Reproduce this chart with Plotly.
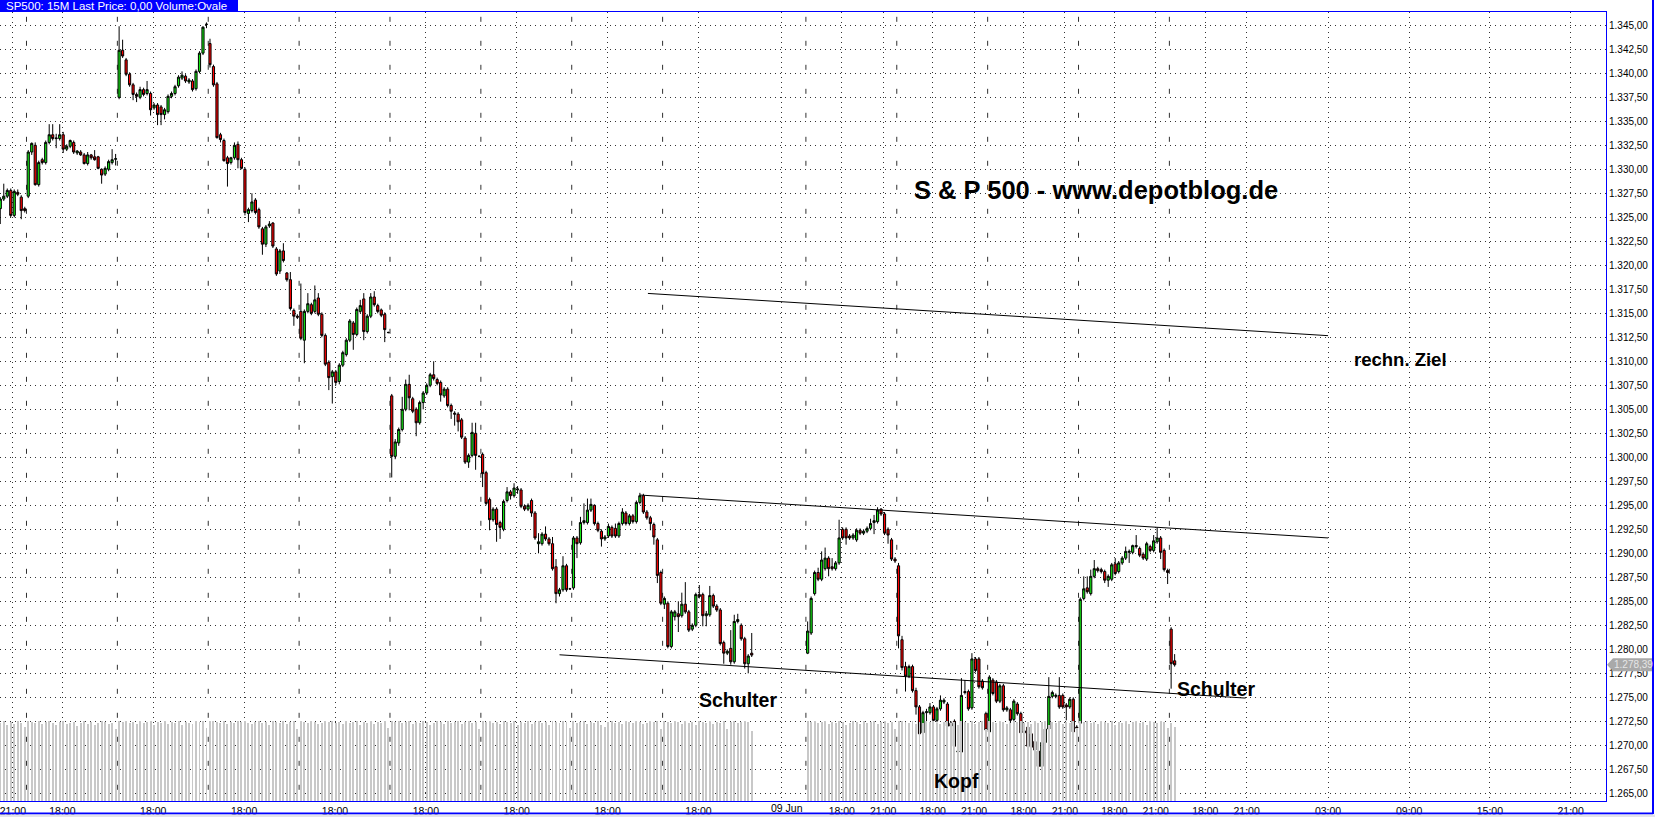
import plotly.graph_objects as go

# ---------------- DATA ----------------
# first 15-minute slot of each trading session (x axis = slot index)
SESSION_START = [-8, 0, 26, 52, 78, 104, 130, 156, 182, 223, 249, 275, 301, 327]

# (open, high, low, close) per 15-minute candle, one list per session
S_PRE = [(1325.9,1327.1,1324.3,1326.9),(1326.9,1328.5,1326.7,1327.2),(1327.2,1328.0,1327.0,1327.8),
         (1327.8,1328.0,1325.0,1325.2),(1325.2,1327.9,1325.0,1327.7),(1327.6,1327.9,1327.2,1327.4),
         (1327.1,1327.3,1324.8,1325.7),(1325.9,1326.1,1325.5,1325.7)]
S_D0 = [(1327.2,1332.0,1327.0,1331.8),(1331.8,1332.8,1331.5,1332.7),(1332.5,1332.8,1328.3,1328.4),
        (1328.4,1330.9,1328.2,1330.7),(1331.0,1331.2,1330.5,1330.7),(1330.7,1333.0,1330.5,1332.8),
        (1332.8,1334.7,1332.6,1333.6),(1333.6,1334.7,1333.0,1333.2),(1333.2,1333.7,1332.2,1333.25),
        (1333.2,1334.7,1333.0,1333.6),(1333.6,1333.9,1331.7,1332.1),(1332.1,1332.6,1331.9,1332.4),
        (1332.4,1333.1,1332.2,1333.0),(1332.8,1333.0,1331.6,1331.8),(1331.7,1332.0,1331.5,1331.9),
        (1331.8,1332.0,1331.4,1331.5),(1331.5,1331.7,1330.5,1330.6),(1330.6,1331.8,1330.4,1331.5),
        (1331.5,1331.6,1331.0,1331.2),(1331.3,1332.0,1330.9,1331.0),(1331.3,1331.4,1330.0,1330.1),
        (1330.0,1330.1,1328.5,1329.4),(1329.5,1330.3,1329.3,1330.1),(1330.0,1331.0,1329.8,1330.8),
        (1330.7,1332.1,1330.5,1331.0),(1331.05,1331.6,1330.4,1331.1)]
S_D1 = [(1337.5,1344.9,1337.3,1342.4),(1342.4,1343.5,1341.6,1341.8),(1341.4,1341.6,1339.7,1339.9),
        (1339.9,1340.1,1338.6,1338.8),(1338.8,1339.0,1337.2,1337.8),(1337.8,1338.0,1337.0,1337.6),
        (1337.5,1338.6,1337.3,1338.3),(1338.3,1338.5,1337.6,1337.8),(1337.9,1339.2,1337.7,1338.3),
        (1337.9,1338.1,1335.6,1336.2),(1336.4,1336.9,1336.2,1336.7),(1336.7,1336.9,1334.6,1335.7),
        (1336.5,1336.7,1334.6,1335.7),(1335.7,1336.4,1335.2,1336.2),(1336.0,1337.8,1335.8,1337.6),
        (1337.6,1338.1,1337.4,1337.9),(1337.9,1338.8,1337.7,1338.6),(1338.7,1339.8,1338.5,1339.6),
        (1339.5,1340.2,1339.3,1339.8),(1339.7,1339.9,1339.0,1339.2),(1339.1,1339.5,1338.9,1339.3),
        (1339.2,1339.4,1338.1,1338.3),(1338.4,1340.4,1338.2,1340.2),(1340.2,1342.3,1340.0,1342.1),
        (1342.1,1344.9,1341.9,1344.8),(1345.1,1345.3,1344.7,1345.1)]
S_D2 = [(1343.1,1343.6,1340.6,1340.9),(1340.7,1340.9,1338.6,1338.8),(1338.9,1339.1,1333.2,1333.3),
        (1333.6,1333.8,1332.8,1333.1),(1333.0,1333.2,1330.8,1330.9),(1331.2,1331.4,1328.2,1330.6),
        (1330.7,1331.3,1330.5,1331.2),(1331.2,1332.8,1331.0,1332.5),(1332.6,1332.9,1330.1,1331.0),
        (1331.0,1331.2,1330.0,1330.1),(1330.0,1330.2,1325.2,1325.5),(1325.4,1326.0,1324.5,1325.8),
        (1325.7,1327.5,1325.5,1326.6),(1326.8,1327.0,1325.3,1325.5),(1325.8,1326.0,1323.8,1324.0),
        (1323.8,1324.0,1321.1,1322.2),(1322.2,1324.2,1321.9,1324.0),(1324.1,1324.6,1323.9,1324.3),
        (1324.4,1324.5,1321.8,1322.0),(1321.7,1321.9,1318.9,1319.1),(1319.4,1321.7,1319.1,1321.5),
        (1321.5,1322.3,1320.3,1320.5),(1319.2,1319.3,1318.3,1318.5),(1318.5,1319.3,1315.3,1315.5),
        (1315.3,1315.5,1313.7,1314.7),(1314.7,1314.9,1314.4,1314.6)]
S_D3 = [(1315.2,1318.1,1312.2,1312.4),(1312.2,1315.4,1309.8,1315.2),(1315.2,1317.1,1315.0,1316.0),
        (1315.9,1316.1,1314.8,1315.0),(1315.2,1317.9,1315.0,1316.4),(1316.6,1317.1,1314.7,1314.9),
        (1314.9,1315.1,1312.5,1312.7),(1312.7,1312.9,1309.5,1309.7),(1309.9,1310.1,1307.0,1308.3),
        (1308.4,1309.1,1305.6,1308.9),(1308.9,1309.1,1307.5,1307.8),(1307.9,1309.8,1307.6,1309.6),
        (1309.6,1311.1,1309.4,1310.9),(1310.7,1312.4,1310.5,1312.2),(1312.2,1314.4,1312.0,1314.2),
        (1314.0,1314.2,1311.2,1312.8),(1312.8,1315.6,1312.6,1315.4),(1315.2,1316.4,1315.0,1315.8),
        (1316.5,1317.1,1312.2,1313.1),(1313.1,1314.9,1312.9,1314.7),(1314.7,1317.1,1314.5,1316.7),
        (1316.7,1317.3,1315.7,1315.9),(1315.8,1316.0,1315.0,1315.2),(1315.35,1315.5,1314.6,1314.8),
        (1314.9,1315.1,1312.0,1313.3),(1313.0,1313.1,1312.9,1313.0)]
S_D4 = [(1306.4,1306.6,1297.9,1300.1),(1300.1,1301.9,1299.8,1301.6),(1301.5,1303.1,1301.2,1302.9),
        (1302.9,1306.3,1302.7,1305.0),(1305.0,1308.1,1304.8,1307.6),(1307.6,1308.6,1304.9,1306.2),
        (1306.1,1306.3,1304.6,1304.8),(1305.0,1305.2,1302.2,1303.6),(1303.6,1305.9,1303.4,1305.7),
        (1305.7,1306.9,1305.0,1306.7),(1306.7,1307.7,1306.5,1307.5),(1307.5,1308.8,1307.3,1308.6),
        (1308.6,1310.0,1308.0,1308.2),(1308.1,1308.3,1307.5,1307.7),(1307.8,1308.0,1305.8,1306.5),
        (1306.4,1307.3,1306.2,1307.1),(1307.1,1307.3,1305.2,1305.4),(1305.4,1305.6,1304.0,1304.8),
        (1304.6,1304.8,1303.3,1304.5),(1304.5,1304.7,1302.7,1303.7),(1303.9,1304.1,1301.9,1302.1),
        (1302.0,1302.2,1299.3,1299.5),(1299.5,1300.4,1298.9,1300.2),(1300.2,1303.6,1300.0,1302.6),
        (1302.5,1303.6,1298.7,1300.2),(1300.1,1300.2,1300.0,1300.1)]
S_D5 = [(1300.3,1300.5,1296.9,1298.3),(1298.4,1298.6,1295.0,1295.2),(1295.6,1295.8,1292.4,1293.5),
        (1293.5,1294.8,1293.3,1294.6),(1294.6,1294.8,1291.2,1293.0),(1293.2,1293.4,1291.5,1292.7),
        (1292.5,1295.6,1292.3,1295.4),(1295.5,1296.9,1295.3,1296.4),(1296.4,1296.6,1295.6,1296.0),
        (1296.0,1297.3,1295.8,1296.8),(1296.6,1297.0,1296.2,1296.7),(1296.6,1296.8,1294.7,1294.9),
        (1294.9,1295.1,1294.4,1294.6),(1294.6,1295.2,1294.4,1295.0),(1295.5,1295.7,1293.8,1294.2),
        (1294.2,1294.4,1291.4,1291.6),(1291.0,1292.1,1290.0,1291.2),(1291.0,1292.2,1290.8,1292.0),
        (1292.0,1292.8,1291.3,1291.5),(1291.5,1291.7,1290.8,1291.0),(1291.0,1291.7,1288.2,1288.4),
        (1288.6,1289.4,1284.8,1285.8),(1285.8,1286.4,1285.5,1286.2),(1286.2,1289.7,1286.0,1288.7),
        (1288.7,1288.9,1286.0,1286.2),(1286.3,1286.4,1286.2,1286.3)]
S_D6 = [(1286.4,1291.8,1286.2,1291.6),(1291.6,1291.8,1289.5,1291.0),(1291.1,1293.8,1290.9,1293.2),
        (1293.2,1295.2,1293.0,1293.4),(1293.2,1295.7,1293.0,1294.5),(1294.5,1295.7,1294.3,1295.1),
        (1295.0,1295.1,1292.9,1293.1),(1293.1,1293.3,1292.2,1292.4),(1292.3,1292.5,1290.7,1291.5),
        (1291.5,1291.9,1291.3,1291.7),(1291.8,1293.1,1291.6,1292.8),(1292.7,1292.9,1291.6,1291.8),
        (1292.6,1293.1,1291.6,1291.8),(1291.8,1293.3,1291.6,1293.1),(1293.1,1294.7,1292.9,1294.3),
        (1294.2,1294.4,1292.9,1293.1),(1293.1,1294.1,1292.9,1293.9),(1293.9,1294.1,1293.1,1293.3),
        (1293.3,1295.5,1293.1,1295.3),(1295.3,1296.3,1295.1,1296.0),(1296.0,1296.2,1294.1,1294.3),
        (1294.3,1294.5,1293.5,1293.7),(1293.7,1293.9,1292.4,1293.1),(1293.0,1293.2,1290.9,1291.7),
        (1291.4,1291.6,1286.9,1287.7),(1288.0,1288.2,1284.6,1284.8)]
S_D7 = [(1284.7,1285.5,1284.2,1285.3),(1284.8,1285.0,1280.1,1280.3),(1280.3,1284.1,1280.1,1283.9),
        (1283.4,1284.1,1283.0,1283.9),(1283.7,1285.0,1281.8,1283.4),(1283.5,1285.9,1283.3,1284.7),
        (1284.7,1287.0,1283.7,1283.9),(1283.9,1284.1,1281.8,1282.0),(1282.1,1282.7,1281.9,1282.5),
        (1282.5,1285.9,1282.3,1285.7),(1285.7,1286.7,1285.3,1285.5),(1285.7,1285.9,1282.4,1283.5),
        (1283.5,1284.0,1282.4,1283.7),(1283.6,1286.6,1283.4,1285.6),(1285.6,1285.8,1284.3,1284.5),
        (1284.5,1284.7,1283.9,1284.1),(1284.1,1284.3,1280.4,1280.6),(1280.7,1280.9,1278.5,1279.6),
        (1279.6,1280.0,1279.4,1279.8),(1280.1,1282.0,1278.4,1278.7),(1278.7,1283.6,1278.5,1282.9),
        (1282.9,1283.7,1282.7,1283.1),(1282.5,1282.7,1280.9,1281.1),(1281.1,1281.3,1278.0,1278.5),
        (1278.5,1279.5,1277.5,1279.3),(1279.6,1281.7,1279.2,1279.4)]
S_D8 = [(1279.6,1282.9,1279.5,1281.9),(1281.7,1285.5,1281.5,1285.3),(1285.8,1288.2,1285.6,1288.0),
        (1288.0,1288.5,1287.1,1287.3),(1287.3,1290.2,1287.1,1289.3),(1288.4,1290.6,1288.2,1289.5),
        (1289.5,1289.7,1287.6,1288.4),(1288.6,1289.5,1288.2,1288.4),(1288.4,1289.2,1288.2,1289.0),
        (1289.0,1293.5,1288.8,1291.6),(1292.5,1292.7,1291.4,1291.6),(1292.5,1292.7,1290.9,1291.6),
        (1291.8,1292.0,1291.4,1291.6),(1291.6,1292.1,1291.4,1291.9),(1291.4,1292.6,1291.2,1292.4),
        (1292.4,1292.6,1291.9,1292.1),(1292.1,1292.5,1291.9,1292.3),(1292.3,1292.8,1292.1,1292.6),
        (1292.6,1293.6,1292.4,1293.1),(1293.2,1294.0,1292.0,1293.4),(1293.3,1294.8,1293.1,1294.5),
        (1294.6,1294.7,1293.9,1294.1),(1294.1,1294.3,1291.9,1292.1),(1292.5,1292.7,1291.0,1291.9),
        (1291.4,1291.6,1289.2,1289.4),(1289.4,1289.6,1289.0,1289.2)]
S_D9 = [(1288.7,1289.0,1280.1,1281.4),(1281.0,1281.4,1277.8,1278.1),(1278.2,1278.7,1275.6,1277.2),
        (1277.2,1278.4,1277.0,1278.2),(1278.2,1278.4,1275.5,1275.7),(1275.7,1276.0,1273.2,1274.0),
        (1274.0,1274.2,1270.9,1271.2),(1271.3,1273.6,1271.1,1273.4),(1273.4,1273.8,1271.9,1273.5),
        (1273.4,1274.4,1273.2,1274.0),(1274.0,1274.2,1272.4,1272.6),(1272.6,1274.0,1272.4,1273.8),
        (1273.8,1275.2,1273.6,1274.7),(1274.5,1274.9,1274.3,1274.7),(1274.3,1274.5,1271.8,1272.0),
        (1272.3,1272.5,1271.8,1272.0),(1272.5,1272.7,1269.7,1269.9),(1269.3,1269.6,1268.3,1269.4),
        (1269.3,1277.0,1269.1,1275.2),(1275.6,1276.8,1275.3,1275.5),(1275.6,1275.8,1273.6,1273.8),
        (1273.9,1279.6,1273.7,1279.0),(1279.0,1279.2,1277.6,1277.8),(1279.0,1279.2,1275.9,1276.1),
        (1276.7,1276.9,1275.8,1276.0),(1273.3,1273.5,1270.6,1271.6)]
S_D10 = [(1271.4,1277.3,1270.6,1277.1),(1276.8,1277.0,1275.2,1275.4),(1276.6,1276.8,1274.4,1274.6),
         (1274.6,1276.4,1274.4,1276.2),(1276.2,1276.4,1273.5,1273.7),(1273.7,1274.1,1273.5,1273.9),
         (1273.7,1273.9,1271.8,1272.6),(1272.7,1274.8,1272.5,1274.6),(1274.3,1274.5,1273.1,1273.3),
         (1273.3,1273.5,1271.1,1271.3),(1271.5,1271.7,1271.1,1271.3),(1271.9,1272.1,1269.7,1269.9),
         (1271.2,1271.4,1269.1,1269.8),(1270.4,1270.6,1269.3,1269.5),(1269.4,1269.6,1265.9,1267.8),
         (1267.8,1270.5,1267.6,1270.3),(1270.3,1271.9,1270.1,1271.7),(1271.7,1277.1,1271.5,1275.1),
         (1275.1,1275.7,1274.9,1275.5),(1275.1,1275.4,1274.9,1275.2),(1275.2,1277.1,1273.8,1274.0),
         (1275.2,1275.4,1273.8,1274.0),(1274.2,1274.4,1272.6,1274.0),(1274.0,1275.0,1273.8,1274.8),
         (1274.8,1275.0,1270.8,1271.4),(1271.9,1272.1,1271.6,1271.8)]
S_D11 = [(1272.3,1285.4,1272.1,1285.2),(1285.3,1287.6,1285.1,1286.3),(1286.4,1287.6,1285.8,1286.0),
         (1285.8,1288.3,1285.6,1287.6),(1287.6,1289.3,1287.4,1288.4),(1288.4,1288.6,1288.0,1288.2),
         (1288.3,1288.5,1287.9,1288.1),(1288.1,1288.3,1286.9,1287.2),(1287.2,1287.8,1286.5,1287.6),
         (1287.3,1289.0,1287.1,1288.8),(1288.9,1289.5,1287.7,1287.9),(1288.1,1289.2,1287.9,1289.0),
         (1289.0,1289.7,1288.8,1289.5),(1289.5,1290.7,1289.3,1290.2),(1290.1,1290.4,1289.0,1290.2),
         (1290.1,1290.9,1289.9,1290.8),(1290.7,1291.9,1290.5,1290.8),(1290.5,1290.7,1289.6,1289.8),
         (1289.9,1290.1,1289.3,1289.5),(1289.4,1291.2,1289.2,1291.0),(1290.7,1290.9,1290.1,1290.3),
         (1290.3,1291.9,1290.1,1291.3),(1291.2,1292.7,1291.0,1291.6),(1291.6,1291.8,1289.4,1290.1),
         (1290.3,1290.5,1288.1,1288.3),(1288.2,1288.4,1286.8,1288.0)]
S_D12 = [(1282.1,1282.3,1275.9,1278.5),(1278.8,1279.5,1278.2,1278.39)]
SESSIONS = [S_PRE, S_D0, S_D1, S_D2, S_D3, S_D4, S_D5, S_D6, S_D7, S_D8, S_D9, S_D10, S_D11, S_D12]

# volume per candle (arbitrary units, drawn as thin grey bars)
V_PRE = [78, 80, 76, 79, 77, 80, 78, 74]
V_D0 = [80, 79, 78, 80, 77, 79, 80, 78, 76, 79, 80, 77, 78, 79, 75, 78, 80, 77, 79, 76, 78, 80, 79, 77, 78, 72]
V_D1 = [80, 79, 80, 78, 79, 77, 80, 78, 79, 80, 76, 79, 78, 80, 77, 79, 78, 80, 76, 79, 78, 77, 80, 79, 80, 73]
V_D2 = [80, 80, 79, 78, 80, 77, 79, 78, 80, 79, 80, 78, 77, 79, 80, 78, 79, 76, 80, 79, 78, 80, 77, 79, 80, 72]
V_D3 = [80, 79, 78, 80, 79, 77, 78, 80, 79, 80, 78, 79, 77, 80, 78, 79, 80, 76, 79, 78, 80, 77, 79, 78, 80, 73]
V_D4 = [80, 79, 80, 78, 79, 80, 77, 79, 78, 80, 79, 76, 78, 80, 79, 77, 80, 78, 79, 80, 77, 79, 80, 78, 79, 72]
V_D5 = [80, 79, 80, 78, 79, 77, 80, 79, 78, 80, 76, 79, 78, 80, 77, 79, 80, 78, 79, 76, 80, 79, 78, 80, 79, 73]
V_D6 = [80, 78, 79, 80, 77, 79, 78, 80, 76, 74, 79, 80, 78, 79, 77, 80, 79, 78, 80, 79, 77, 78, 80, 79, 80, 72]
V_D7 = [80, 79, 78, 80, 79, 77, 80, 78, 79, 76, 80, 79, 78, 80, 77, 79, 78, 80, 72, 79, 80, 78, 79, 80, 79, 70]
V_D8 = [80, 79, 80, 78, 79, 80, 77, 79, 78, 80, 79, 76, 78, 80, 79, 77, 80, 78, 79, 80, 77, 79, 80, 78, 79, 72]
V_D9 = [80, 80, 79, 78, 80, 77, 79, 78, 80, 79, 80, 78, 77, 79, 80, 78, 79, 76, 80, 79, 78, 80, 77, 79, 80, 72]
V_D10 = [80, 79, 78, 80, 79, 77, 78, 80, 79, 80, 78, 79, 77, 80, 78, 79, 80, 76, 79, 78, 80, 77, 79, 78, 80, 73]
V_D11 = [80, 79, 80, 78, 79, 77, 80, 79, 78, 80, 76, 79, 78, 80, 77, 79, 80, 78, 79, 76, 80, 79, 78, 80, 79, 73]
V_D12 = [78, 74]
VOLUMES = [V_PRE, V_D0, V_D1, V_D2, V_D3, V_D4, V_D5, V_D6, V_D7, V_D8, V_D9, V_D10, V_D11, V_D12]

# x axis labels (slot positions) and texts; the date label sits a little right of its grid line
TICK_POS = [-4.4, 9.77, 35.77, 61.77, 87.77, 113.77, 139.77, 165.77, 191.77, 215.4,
            232.77, 244.6, 258.77, 270.6, 284.77, 296.6, 310.77, 322.6, 336.77, 348.6,
            371.9, 395.1, 418.2, 441.3]
TICK_TEXT = ["21:00", "18:00", "18:00", "18:00", "18:00", "18:00", "18:00", "18:00", "18:00", "",
             "18:00", "21:00", "18:00", "21:00", "18:00", "21:00", "18:00", "21:00", "18:00", "21:00",
             "03:00", "09:00", "15:00", "21:00"]
DATE_LABEL = ("09 Jun", 217.0)
DAY_BREAKS = [-0.5, 25.5, 51.5, 77.5, 103.5, 129.5, 155.5, 181.5, 222.5, 248.5, 274.5, 300.5, 326.5]

# trend lines (slot, price)
TARGET_LINE = [(177.3, 1317.07), (371.9, 1312.67)]
NECK_LINE = [(175.0, 1296.07), (371.9, 1291.6)]
LOW_LINE = [(152.0, 1279.43), (348.3, 1274.92)]

LAST_PRICE = 1278.39
Y_MIN, Y_MAX = 1264.2, 1346.385
X_MIN, X_MAX = -8.08, 451.42

# ---------------- BUILD ----------------
xs, op, hi, lo, cl, vx, vv = [], [], [], [], [], [], []
for start, rows, vols in zip(SESSION_START, SESSIONS, VOLUMES):
    for i, (o, h, l, c) in enumerate(rows):
        xs.append(start + i); op.append(o); hi.append(h); lo.append(l); cl.append(c)
    for i, v in enumerate(vols):
        vx.append(start + i); vv.append(v)

fig = go.Figure()
fig.add_trace(go.Bar(x=vx, y=vv, yaxis="y2", width=0.28,
                     marker=dict(color="#c8c8c8", line=dict(width=0)),
                     hoverinfo="skip", showlegend=False))
fig.add_trace(go.Candlestick(
    x=xs, open=op, high=hi, low=lo, close=cl, whiskerwidth=0,
    increasing=dict(fillcolor="#14e614", line=dict(color="black", width=1)),
    decreasing=dict(fillcolor="#ff0000", line=dict(color="black", width=1)),
    hoverinfo="skip", showlegend=False))

shapes = []
for b in DAY_BREAKS:
    shapes.append(dict(type="line", xref="x", yref="y", x0=b, x1=b, y0=Y_MAX + 2.0, y1=Y_MIN - 1,
                       line=dict(color="#303030", width=1, dash="5px,19px"), layer="below"))
for (a, b) in (TARGET_LINE, NECK_LINE, LOW_LINE):
    shapes.append(dict(type="line", xref="x", yref="y", x0=a[0], y0=a[1], x1=b[0], y1=b[1],
                       line=dict(color="black", width=1), layer="above"))

W, H = 1655, 817
L, R, T, B = 0, 49, 12, 16
pw, ph = W - L - R, H - T - B
def px_x(p):
    return (p - L) / pw
def px_y(p):
    return (H - B - p) / ph

# header box
shapes.append(dict(type="rect", xref="paper", yref="paper", x0=px_x(0), x1=px_x(238),
                   y0=px_y(12), y1=px_y(0), fillcolor="#0000ff", line=dict(width=0), layer="above"))
# outer window lines
shapes.append(dict(type="line", xref="paper", yref="paper", x0=px_x(1653), x1=px_x(1653),
                   y0=px_y(0), y1=px_y(814), line=dict(color="#0000ff", width=2)))
shapes.append(dict(type="line", xref="paper", yref="paper", x0=px_x(0), x1=px_x(1653),
                   y0=px_y(813.5), y1=px_y(813.5), line=dict(color="#0000ff", width=2)))
shapes.append(dict(type="rect", xref="paper", yref="paper", x0=px_x(0), x1=px_x(1655),
                   y0=px_y(817), y1=px_y(814.5), fillcolor="#e4e4ec", line=dict(width=0)))
# last price marker
py = (LAST_PRICE - Y_MIN) / (Y_MAX - Y_MIN)
hh = 6.5 / ph
shapes.append(dict(type="path", xref="paper", yref="paper",
                   path=f"M {px_x(1607)},{py} L {px_x(1613)},{py+hh} L {px_x(1652)},{py+hh} "
                        f"L {px_x(1652)},{py-hh} L {px_x(1613)},{py-hh} Z",
                   fillcolor="#a9a9a9", line=dict(width=0), layer="above"))

bold = dict(family="Arial", size=19.5, color="black", weight="bold")
annotations = [
    dict(x=px_x(4), y=px_y(6.5), xref="paper", yref="paper", xanchor="left", yanchor="middle",
         text="SP500: 15M Last Price: 0,00 Volume:Ovale", showarrow=False,
         font=dict(family="Arial", size=11.5, color="white")),
    dict(x=305.6, y=1327.84, xref="x", yref="y", text="S & P 500 - www.depotblog.de", showarrow=False,
         font=dict(family="Arial", size=25.5, color="black", weight="bold")),
    dict(x=392.5, y=1310.15, xref="x", yref="y", text="rechn. Ziel", showarrow=False,
         font=dict(family="Arial", size=18.5, color="black", weight="bold")),
    dict(x=203.1, y=1274.75, xref="x", yref="y", text="Schulter", showarrow=False, font=bold),
    dict(x=265.7, y=1266.3, xref="x", yref="y", text="Kopf", showarrow=False, font=bold),
    dict(x=339.8, y=1275.9, xref="x", yref="y", text="Schulter", showarrow=False, font=bold),
    dict(x=px_x(1612), y=py, xref="paper", yref="paper", xanchor="left", yanchor="middle",
         text="1.278,39", showarrow=False, font=dict(family="Arial", size=10, color="#e6e6e6")),
    dict(x=DATE_LABEL[1], y=px_y(808), xref="x", yref="paper", yanchor="middle",
         text=DATE_LABEL[0], showarrow=False, font=dict(family="Arial", size=10.5, color="black")),
]

fig.update_layout(
    width=W, height=H, margin=dict(l=L, r=R, t=T, b=B, pad=0),
    paper_bgcolor="white", plot_bgcolor="white", separators=",.",
    showlegend=False, shapes=shapes, annotations=annotations, bargap=0, boxgap=0.12,
    xaxis=dict(type="linear", range=[X_MIN, X_MAX], rangeslider=dict(visible=False),
               tickmode="array", tickvals=TICK_POS, ticktext=TICK_TEXT, ticklabeloverflow="allow",
               tickfont=dict(family="Arial", size=10.5, color="black"), ticks="",
               showgrid=True, gridcolor="#333333", gridwidth=1, griddash="1px,4px",
               zeroline=False, showline=True, linecolor="#0000ff", linewidth=1, mirror=True),
    yaxis=dict(side="right", range=[Y_MIN, Y_MAX], tick0=1265, dtick=2.5, tickformat=",.2f",
               tickfont=dict(family="Arial", size=10, color="black"), ticks="",
               ticklabeloverflow="allow",
               showgrid=True, gridcolor="#333333", gridwidth=1, griddash="1px,4px",
               zeroline=False, showline=True, linecolor="#0000ff", linewidth=1),
    yaxis2=dict(overlaying="y", range=[0, ph], visible=False, fixedrange=True),
)

fig.write_html("out.html", config={"displayModeBar": False},
               post_script="document.body.style.margin='0';document.body.style.padding='0';")
